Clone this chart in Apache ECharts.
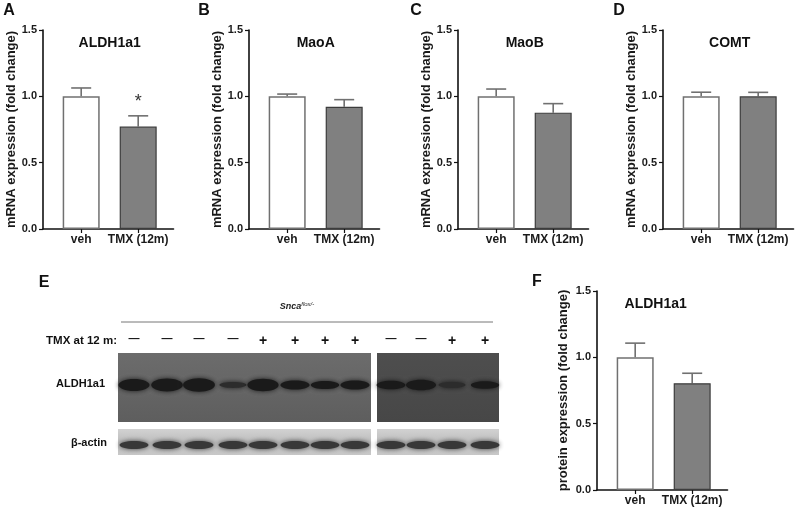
<!DOCTYPE html>
<html>
<head>
<meta charset="utf-8">
<script src="https://cdn.jsdelivr.net/npm/echarts@6/dist/echarts.min.js"></script>
<style>
  html, body { margin: 0; padding: 0; background: #fff; }
  #chart { width: 798px; height: 509px; }
</style>
</head>
<body>
<div id="chart"></div>
<script>
// group names on every bar chart
const groups = ["veh", "TMX (12m)"];

// mRNA fold change, mean and SEM (upper bar only)
const aldhMean = [1.0, 0.772];
const aldhSem = [0.063, 0.081];
const aldhSig = ["", "*"];
const maoaMean = [1.0, 0.922];
const maoaSem = [0.017, 0.053];
const maobMean = [1.0, 0.877];
const maobSem = [0.055, 0.068];
const comtMean = [1.0, 1.0];
const comtSem = [0.031, 0.03];

// western blot quantification
const protMean = [1.0, 0.805];
const protSem = [0.107, 0.075];

// y scale shared by all panels
const yMin = 0;
const yMax = 1.5;
const yStep = 0.5;

// blot lanes: treatment sign and relative ALDH1a1 band strength
const laneSign = ["-", "-", "-", "-", "+", "+", "+", "+", "-", "-", "+", "+"];
const aldhBand = [1.0, 1.1, 1.15, 0.35, 1.05, 0.7, 0.6, 0.7, 0.65, 0.85, 0.35, 0.55];

const FONT = "'Liberation Sans', Arial, Helvetica, sans-serif";

const panels = [
  { left: 43, top: 30, title: "ALDH1a1", mean: aldhMean, sem: aldhSem, sig: aldhSig, name: "mRNA expression (fold change)", gap: 23.5 },
  { left: 249, top: 30, title: "MaoA", mean: maoaMean, sem: maoaSem, name: "mRNA expression (fold change)", gap: 23.5 },
  { left: 458, top: 30, title: "MaoB", mean: maobMean, sem: maobSem, name: "mRNA expression (fold change)", gap: 23.5 },
  { left: 663, top: 30, title: "COMT", mean: comtMean, sem: comtSem, name: "mRNA expression (fold change)", gap: 23.5 },
  { left: 597, top: 291, title: "ALDH1a1", mean: protMean, sem: protSem, name: "protein expression (fold change)", gap: 27.5 }
];

const xLo = -0.67, xHi = 1.62;
const unitPx = 57;

const vehStyle = { color: "#ffffff", borderColor: "#707070", borderWidth: 1.5 };
const tmxStyle = { color: "#808080", borderColor: "#3c3c3c", borderWidth: 1.2 };

const grid = [], xAxis = [], yAxis = [], series = [];
const graphic = [];

panels.forEach((p, i) => {
  grid.push({ left: p.left, top: p.top, width: (xHi - xLo) * unitPx, height: 199 });
  xAxis.push({
    gridIndex: i, type: "value", min: xLo, max: xHi,
    splitLine: { show: false },
    axisLine: { onZero: false, lineStyle: { color: "#111", width: 1.6 } },
    axisTick: { customValues: [0, 1], length: 4, lineStyle: { color: "#111", width: 1.2 } },
    axisLabel: {
      customValues: [0, 1], margin: 5,
      formatter: (v) => groups[Math.round(v)],
      fontFamily: FONT, fontWeight: "bold", fontSize: 12, color: "#1a1a1a"
    }
  });
  yAxis.push({
    gridIndex: i, type: "value", min: yMin, max: yMax, interval: yStep,
    name: p.name, nameLocation: "middle", nameGap: p.gap,
    nameTextStyle: { fontFamily: FONT, fontWeight: "bold", fontSize: 13, color: "#1a1a1a" },
    splitLine: { show: false },
    axisLine: { show: true, onZero: false, lineStyle: { color: "#111", width: 1.6 } },
    axisTick: { show: true, length: 4, lineStyle: { color: "#111", width: 1.2 } },
    axisLabel: {
      margin: 6, formatter: (v) => v.toFixed(1),
      fontFamily: FONT, fontWeight: "bold", fontSize: 11, color: "#1a1a1a"
    }
  });
  series.push({
    type: "bar", xAxisIndex: i, yAxisIndex: i, barWidth: 37, silent: true,
    data: p.mean.map((v, j) => ({ value: [j, v], itemStyle: j ? tmxStyle : vehStyle }))
  });
  const sig = p.sig || [];
  series.push({
    type: "custom", xAxisIndex: i, yAxisIndex: i, silent: true, z: 1,
    data: p.mean.map((v, j) => [j, v, p.sem[j]]),
    renderItem: (params, api) => {
      const x = api.value(0), m = api.value(1), e = api.value(2);
      const base = api.coord([x, m]);
      const top = api.coord([x, m + e]);
      const st = { stroke: "#707070", lineWidth: 1.6 };
      const kids = [
        { type: "line", shape: { x1: base[0], y1: base[1], x2: top[0], y2: top[1] }, style: st },
        { type: "line", shape: { x1: top[0] - 10, y1: top[1], x2: top[0] + 10, y2: top[1] }, style: st }
      ];
      const s = sig[params.dataIndex];
      if (s) {
        kids.push({
          type: "text", x: top[0], y: top[1] - 14,
          style: { text: s, fill: "#333", font: "18px " + FONT, align: "center", verticalAlign: "middle" }
        });
      }
      return { type: "group", children: kids };
    }
  });
  // chart title
  graphic.push({
    type: "text", x: p.left + (0.5 - xLo) * unitPx + (p.top > 100 ? -8 : 0), y: p.top + 13,
    style: { text: p.title, font: "bold 14px " + FONT, fill: "#111", align: "center", verticalAlign: "middle" }
  });
});

// panel letters
[["A", 9, 11], ["B", 204, 11], ["C", 416, 11], ["D", 619, 11], ["E", 44, 283], ["F", 537, 282]].forEach((l) => {
  graphic.push({
    type: "text", x: l[1], y: l[2],
    style: { text: l[0], font: "bold 16px " + FONT, fill: "#111", align: "center", verticalAlign: "middle" }
  });
});

// panel E: western blot drawing
const laneX = [134, 167, 199, 233, 263, 295, 325, 355, 391, 421, 452, 485];
graphic.push({
  type: "text", x: 297, y: 307,
  style: {
    text: "{a|Snca}{b|flox/-}", align: "center", verticalAlign: "middle",
    rich: {
      a: { font: "italic bold 9px " + FONT, fill: "#222" },
      b: { font: "italic 6px " + FONT, fill: "#222", verticalAlign: "top", padding: [0, 0, 5, 0] }
    }
  }
});
graphic.push({ type: "line", shape: { x1: 121, y1: 322, x2: 493, y2: 322 }, style: { stroke: "#777", lineWidth: 1 } });
graphic.push({
  type: "text", x: 117, y: 341,
  style: { text: "TMX at 12 m:", font: "bold 11.5px " + FONT, fill: "#111", align: "right", verticalAlign: "middle" }
});
laneSign.forEach((s, k) => {
  graphic.push({
    type: "text", x: laneX[k], y: s === "+" ? 341 : 339,
    style: { text: s === "+" ? "+" : "\u2014", font: "bold " + (s === "+" ? 14 : 11) + "px " + FONT, fill: "#111", align: "center", verticalAlign: "middle" }
  });
});
graphic.push({
  type: "text", x: 105, y: 384,
  style: { text: "ALDH1a1", font: "bold 11px " + FONT, fill: "#111", align: "right", verticalAlign: "middle" }
});
graphic.push({
  type: "text", x: 107, y: 443,
  style: { text: "\u03b2-actin", font: "bold 11px " + FONT, fill: "#111", align: "right", verticalAlign: "middle" }
});
const blots = [[118, 253, "#6c6c6c", "#5e5e5e"], [377, 122, "#4e4e4e", "#474747"]];
blots.forEach((b) => {
  graphic.push({
    type: "rect", shape: { x: b[0], y: 353, width: b[1], height: 69 },
    style: { fill: new echarts.graphic.LinearGradient(0, 0, 0, 1, [{ offset: 0, color: b[2] }, { offset: 1, color: b[3] }]) }
  });
  graphic.push({
    type: "rect", shape: { x: b[0], y: 429, width: b[1], height: 26 },
    style: { fill: new echarts.graphic.LinearGradient(0, 0, 0, 1, [{ offset: 0, color: "#d2d2d2" }, { offset: 0.5, color: "#bdbdbd" }, { offset: 1, color: "#c8c8c8" }]) }
  });
});
laneX.forEach((cx, k) => {
  const s = aldhBand[k];
  graphic.push({
    type: "ellipse", shape: { cx: cx, cy: 385, rx: 12.5 + 3 * s, ry: 1.2 + 4.8 * s },
    style: { fill: s < 0.5 ? "#2c2c2c" : "#1a1a1a", shadowBlur: 5, shadowColor: "rgba(20,20,20,0.9)" }
  });
  graphic.push({
    type: "ellipse", shape: { cx: cx, cy: 445, rx: 14.5, ry: 4 },
    style: { fill: "#383838", shadowBlur: 5, shadowColor: "rgba(50,50,50,0.9)" }
  });
});

const chart = echarts.init(document.getElementById("chart"), null, { renderer: "canvas" });
chart.setOption({
  animation: false,
  backgroundColor: "#ffffff",
  grid: grid,
  xAxis: xAxis,
  yAxis: yAxis,
  series: series,
  graphic: graphic
});
</script>
</body>
</html>
